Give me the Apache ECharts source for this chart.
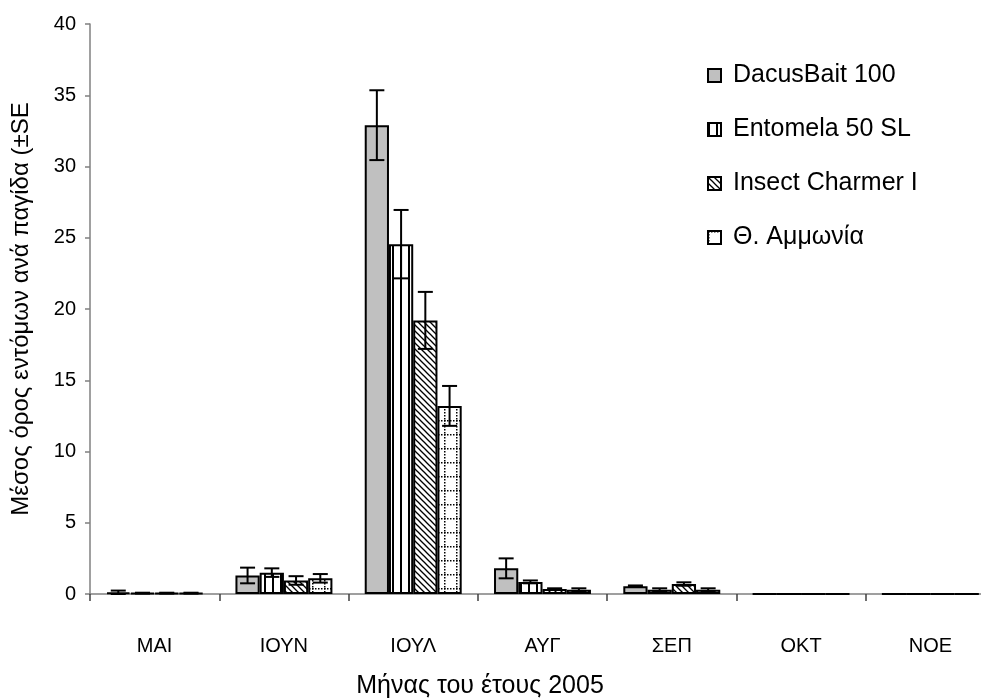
<!DOCTYPE html>
<html><head><meta charset="utf-8">
<script src="https://cdn.jsdelivr.net/npm/echarts@6/dist/echarts.min.js"></script>
<style>html,body{margin:0;padding:0;background:#fff}#c{width:981px;height:698px}</style>
</head><body><div id="c"></div>
<script>
const months = ['ΜΑΙ','ΙΟΥΝ','ΙΟΥΛ','ΑΥΓ','ΣΕΠ','ΟΚΤ','ΝΟΕ'];
const seriesNames = ['DacusBait 100','Entomela 50 SL','Insect Charmer I','Θ. Αμμωνία'];
const dacus = [0.12, 1.3, 32.9, 1.8, 0.55, 0, 0];
const entomela = [0.06, 1.5, 24.55, 0.85, 0.3, 0, 0];
const insect = [0.06, 0.95, 19.2, 0.35, 0.7, 0, 0];
const ammonia = [0.06, 1.1, 13.2, 0.3, 0.3, 0, 0];
const dacusSE = [0.12, 0.55, 2.45, 0.7, 0.05, 0, 0];
const entomelaSE = [0.03, 0.3, 2.4, 0.1, 0.1, 0, 0];
const insectSE = [0.03, 0.3, 2.0, 0.05, 0.12, 0, 0];
const ammoniaSE = [0.03, 0.3, 1.4, 0.1, 0.1, 0, 0];
const yTicks = {min: 0, max: 40, interval: 5};

function mk(w, h, draw) {
  const c = document.createElement('canvas');
  c.width = w; c.height = h;
  const g = c.getContext('2d');
  g.fillStyle = '#fff'; g.fillRect(0, 0, w, h);
  draw(g);
  return c;
}
const patVert = mk(8, 8, g => { g.fillStyle = '#000'; g.fillRect(0, 0, 2, 8); });
const patDiag = mk(6, 6, g => {
  g.strokeStyle = '#000'; g.lineWidth = 1.3;
  g.beginPath(); g.moveTo(-1, -1); g.lineTo(7, 7); g.stroke();
  g.beginPath(); g.moveTo(-7, -1); g.lineTo(1, 7); g.stroke();
  g.beginPath(); g.moveTo(5, -1); g.lineTo(13, 7); g.stroke();
});
const patDot = mk(12, 14, g => {
  g.fillStyle = '#000';
  for (let x = 0; x < 12; x += 3) g.fillRect(x, 0, 1.5, 1.5);
  for (let y = 0; y < 14; y += 3) g.fillRect(0, y, 1.5, 1.5);
});

const fills = ['#c0c0c0', {image: patVert, repeat: 'repeat'}, {image: patDiag, repeat: 'repeat'}, {image: patDot, repeat: 'repeat'}];
const vals = [dacus, entomela, insect, ammonia];
const ses = [dacusSE, entomelaSE, insectSE, ammoniaSE];

const series = [];
vals.forEach((v, i) => {
  series.push({
    name: seriesNames[i], type: 'bar', data: v,
    barGap: '0%', barCategoryGap: '25%',
    itemStyle: {color: fills[i], borderColor: '#000', borderWidth: 2},
    emphasis: {disabled: true}
  });
});
vals.forEach((v, i) => {
  series.push({
    type: 'custom', silent: true, z: 5,
    data: v.map((val, k) => [k, val, ses[i][k]]),
    renderItem: function (params, api) {
      const k = api.value(0), val = api.value(1), se = api.value(2);
      if (se <= 0) return null;
      const band = api.size([1, 0])[0];
      const bw = band * 0.75 / 4;
      const cx = api.coord([k, val])[0] + (i - 1.5) * bw;
      const yt = api.coord([k, val + se])[1];
      const yb = api.coord([k, val - se])[1];
      const hw = 7.5;
      const st = {stroke: '#000', lineWidth: 2};
      return {type: 'group', children: [
        {type: 'line', shape: {x1: cx, y1: yt, x2: cx, y2: yb}, style: st},
        {type: 'line', shape: {x1: cx - hw, y1: yt, x2: cx + hw, y2: yt}, style: st},
        {type: 'line', shape: {x1: cx - hw, y1: yb, x2: cx + hw, y2: yb}, style: st}
      ]};
    }
  });
});

const chart = echarts.init(document.getElementById('c'), null, {renderer: 'canvas'});
chart.setOption({
  animation: false,
  backgroundColor: '#fff',
  textStyle: {fontFamily: 'Liberation Sans, Arial, sans-serif'},
  title: {
    text: 'Μήνας του έτους 2005', left: 475, top: 669, textAlign: 'center',
    textStyle: {fontSize: 25, fontWeight: 'normal', color: '#000', fontFamily: 'Liberation Sans'}
  },
  legend: {
    orient: 'vertical', left: 702, top: 58, itemGap: 29,
    itemWidth: 13, itemHeight: 13, icon: 'rect',
    data: seriesNames,
    textStyle: {fontSize: 25, lineHeight: 25, color: '#000', fontFamily: 'Liberation Sans', padding: [0, 0, 0, 7]},
    selectedMode: false
  },
  grid: {left: 90, top: 24, width: 905, height: 570, containLabel: false, outerBoundsMode: 'none'},
  xAxis: {
    type: 'category', data: months,
    axisLine: {lineStyle: {color: '#808080', width: 1.5}},
    axisTick: {show: true, length: 7, lineStyle: {color: '#404040', width: 1.5}},
    axisLabel: {fontSize: 20, color: '#000', margin: 42, fontFamily: 'Liberation Sans'}
  },
  yAxis: {
    type: 'value', min: yTicks.min, max: yTicks.max, interval: yTicks.interval,
    name: 'Μέσος όρος εντόμων ανά παγίδα (±SE', nameLocation: 'middle', nameGap: 57, nameRotate: 90,
    nameTextStyle: {fontSize: 24, color: '#000', fontFamily: 'Liberation Sans'},
    splitLine: {show: false},
    axisLine: {show: true, lineStyle: {color: '#808080', width: 1.5}},
    axisTick: {show: true, length: 5, lineStyle: {color: '#808080', width: 1.5}},
    axisLabel: {fontSize: 20, color: '#000', margin: 14, fontFamily: 'Liberation Sans'}
  },
  series: series
});
</script></body></html>
